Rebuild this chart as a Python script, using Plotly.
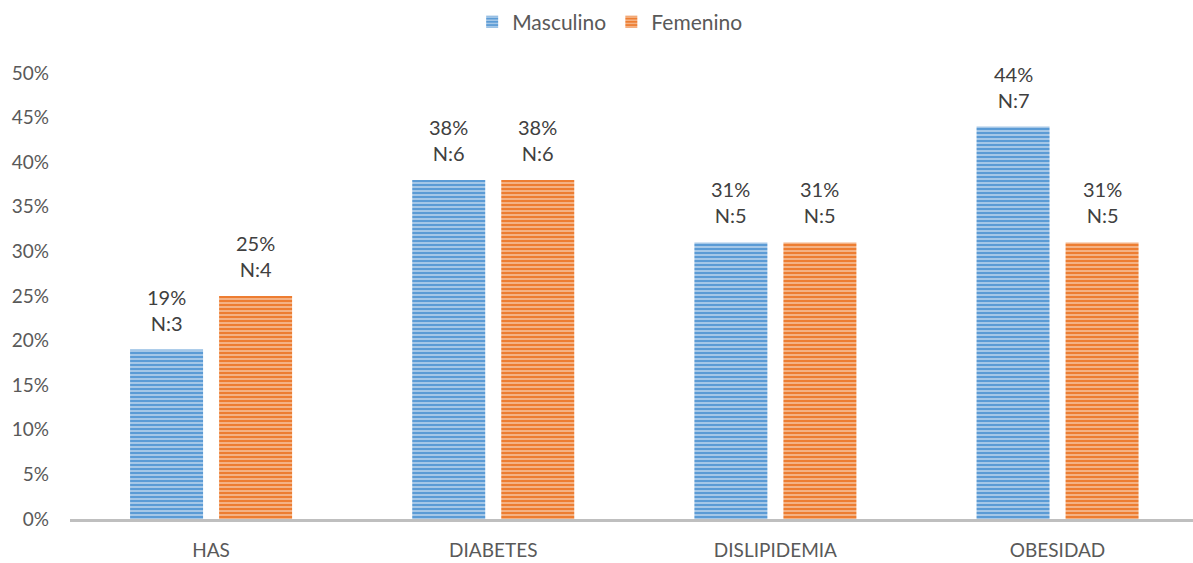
import plotly.graph_objects as go

categories = ["HAS", "DIABETES", "DISLIPIDEMIA", "OBESIDAD"]
masculino_pct = [0.19, 0.38, 0.31, 0.44]
masculino_n = [3, 6, 5, 7]
femenino_pct = [0.25, 0.38, 0.31, 0.31]
femenino_n = [4, 6, 5, 5]
y_ticks = [0, 0.05, 0.10, 0.15, 0.20, 0.25, 0.30, 0.35, 0.40, 0.45, 0.50]

FONT = "Lato, 'Open Sans', sans-serif"

def labels(p, n):
    return [f"{round(v*100)}%<br>N:{k}" for v, k in zip(p, n)]

fig = go.Figure()
fig.add_trace(go.Bar(
    name="Masculino", x=categories, y=masculino_pct,
    marker=dict(color="#5B9BD5", line=dict(width=0),
                pattern=dict(shape="-", size=4, solidity=0.35,
                             fgcolor="#C5DAF0", bgcolor="#5B9BD5", fillmode="replace")),
))
fig.add_trace(go.Bar(
    name="Femenino", x=categories, y=femenino_pct,
    marker=dict(color="#ED7D31", line=dict(width=0),
                pattern=dict(shape="-", size=4, solidity=0.35,
                             fgcolor="#F8C9A8", bgcolor="#ED7D31", fillmode="replace")),
))

# value labels above each bar
half_slot = 44.5  # px offset of each bar center from category center
for series, pct, n, sgn in [("M", masculino_pct, masculino_n, -1), ("F", femenino_pct, femenino_n, 1)]:
    for cat, txt, v in zip(categories, labels(pct, n), pct):
        fig.add_annotation(
            x=cat, y=v, xref="x", yref="y", text=txt, showarrow=False,
            xanchor="center", yanchor="bottom", xshift=sgn * half_slot, yshift=13,
            font=dict(family=FONT, size=20, color="#404040"), align="center",
        )

fig.update_layout(
    width=1193, height=563,
    margin=dict(l=70, r=0, t=73, b=44),
    paper_bgcolor="white", plot_bgcolor="white",
    barmode="group", bargap=0.369, bargroupgap=0.18,
    font=dict(family=FONT, color="#595959"),
    showlegend=True,
    legend=dict(orientation="h", x=0.481, xanchor="center", y=0.997, yanchor="top",
                yref="container", font=dict(size=21, color="#595959", family=FONT),
                itemwidth=30, traceorder="normal"),
)

fig.update_xaxes(
    range=[-0.5, 3.48], showline=True, linecolor="#BFBFBF", linewidth=3,
    showgrid=False, ticks="", tickfont=dict(size=19, color="#595959", family=FONT),
    ticklabelstandoff=12,
)
fig.update_yaxes(
    range=[0, 0.5], tickvals=y_ticks, tickformat=".0%", showgrid=False,
    zeroline=False, showline=False, ticks="",
    tickfont=dict(size=19, color="#595959", family=FONT),
    ticklabelstandoff=20,
)

fig.write_html("out.html")
